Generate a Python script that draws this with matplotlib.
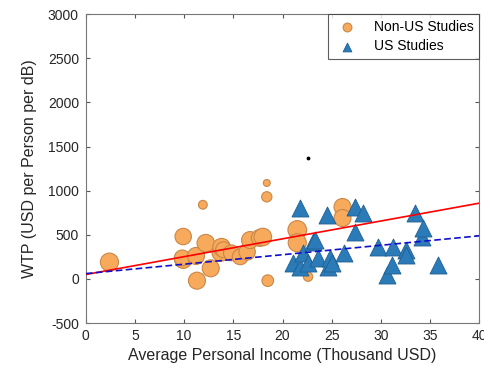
import numpy as np
import matplotlib
matplotlib.use('Agg')
import matplotlib.pyplot as plt

plt.rcParams['font.family'] = ['Liberation Sans', 'DejaVu Sans']
plt.rcParams['axes.unicode_minus'] = False

# non-US studies: income (thousand USD), WTP (USD per person per dB), marker size
nonus_income = [2.4, 9.9, 9.9, 9.8, 11.2, 11.3, 11.9, 12.2, 12.7, 13.7, 13.8, 14.0,
                14.8, 15.7, 16.4, 16.7, 17.7, 18.0, 18.4, 18.4, 18.5, 21.5, 21.5,
                22.6, 26.1, 26.1]
nonus_wtp = [190, 480, 215, 238, 260, -20, 840, 405, 120, 295, 360, 330,
             295, 250, 306, 440, 465, 475, 1087, 930, -20, 555, 410,
             25, 815, 690]
nonus_size = [170, 140, 150, 130, 150, 150, 40, 160, 150, 150, 160, 130,
              130, 130, 140, 150, 150, 160, 25, 55, 70, 180, 170,
              45, 150, 150]

# US studies
us_income = [21.1, 21.8, 21.8, 22.1, 22.6, 23.1, 23.3, 23.6, 24.5, 24.6, 24.8, 25.0,
             26.3, 27.4, 27.4, 28.2, 29.7, 30.6, 31.1, 31.2, 32.6, 32.6, 33.5,
             34.2, 34.3, 35.8]
us_wtp = [180, 135, 800, 295, 180, 420, 440, 240, 725, 135, 240, 180,
          290, 815, 530, 750, 360, 45, 160, 360, 330, 270, 750,
          480, 580, 160]

# fitted trends for each group
fit_x = np.array([0, 40])
nonus_fit = 50 + 20.2 * fit_x
us_fit = 60 + 10.7 * fit_x

fig = plt.figure(figsize=(4.85, 3.73), dpi=100)
ax = fig.add_axes([0.177, 0.134, 0.811, 0.828])

ax.scatter(nonus_income, nonus_wtp, s=nonus_size, marker='o', color='#F7A95C',
           edgecolors='#C98848', linewidths=0.8, label='Non-US Studies', zorder=3)
ax.scatter(us_income, us_wtp, s=150, marker='^', color='#2B7BB9',
           edgecolors='#1F5F90', linewidths=0.6, label='US Studies', zorder=3)
ax.scatter([22.6], [1370], s=3, color='black', zorder=3)

ax.plot(fit_x, nonus_fit, color='red', lw=1.2, zorder=4)
ax.plot(fit_x, us_fit, color='#1010CC', lw=1.2, ls='--', dashes=(4, 2), zorder=4)

ax.set_xlim(0, 40)
ax.set_ylim(-500, 3000)
ax.set_xticks(np.arange(0, 41, 5))
ax.set_yticks(np.arange(-500, 3001, 500))
ax.tick_params(direction='in', top=True, right=True, labelsize=10, length=3,
               color='#555555', labelcolor='#262626')
ax.tick_params(axis='y', pad=5)
ax.tick_params(axis='x', pad=4)
for sp in ax.spines.values():
    sp.set_color('#777777')
ax.set_xlabel('Average Personal Income (Thousand USD)', fontsize=11.5, labelpad=4,
              color='#262626')
ax.set_ylabel('WTP (USD per Person per dB)', fontsize=11.5, labelpad=8,
              color='#262626')

leg = ax.legend(loc='upper right', fontsize=10, frameon=True, fancybox=False,
                edgecolor='#333333', borderaxespad=0.0, handletextpad=0.9,
                borderpad=0.4, labelspacing=0.4, scatterpoints=1)
leg.get_frame().set_linewidth(0.8)
for h in leg.legend_handles:
    h.set_sizes([40])

fig.savefig('out.png', dpi=100)
